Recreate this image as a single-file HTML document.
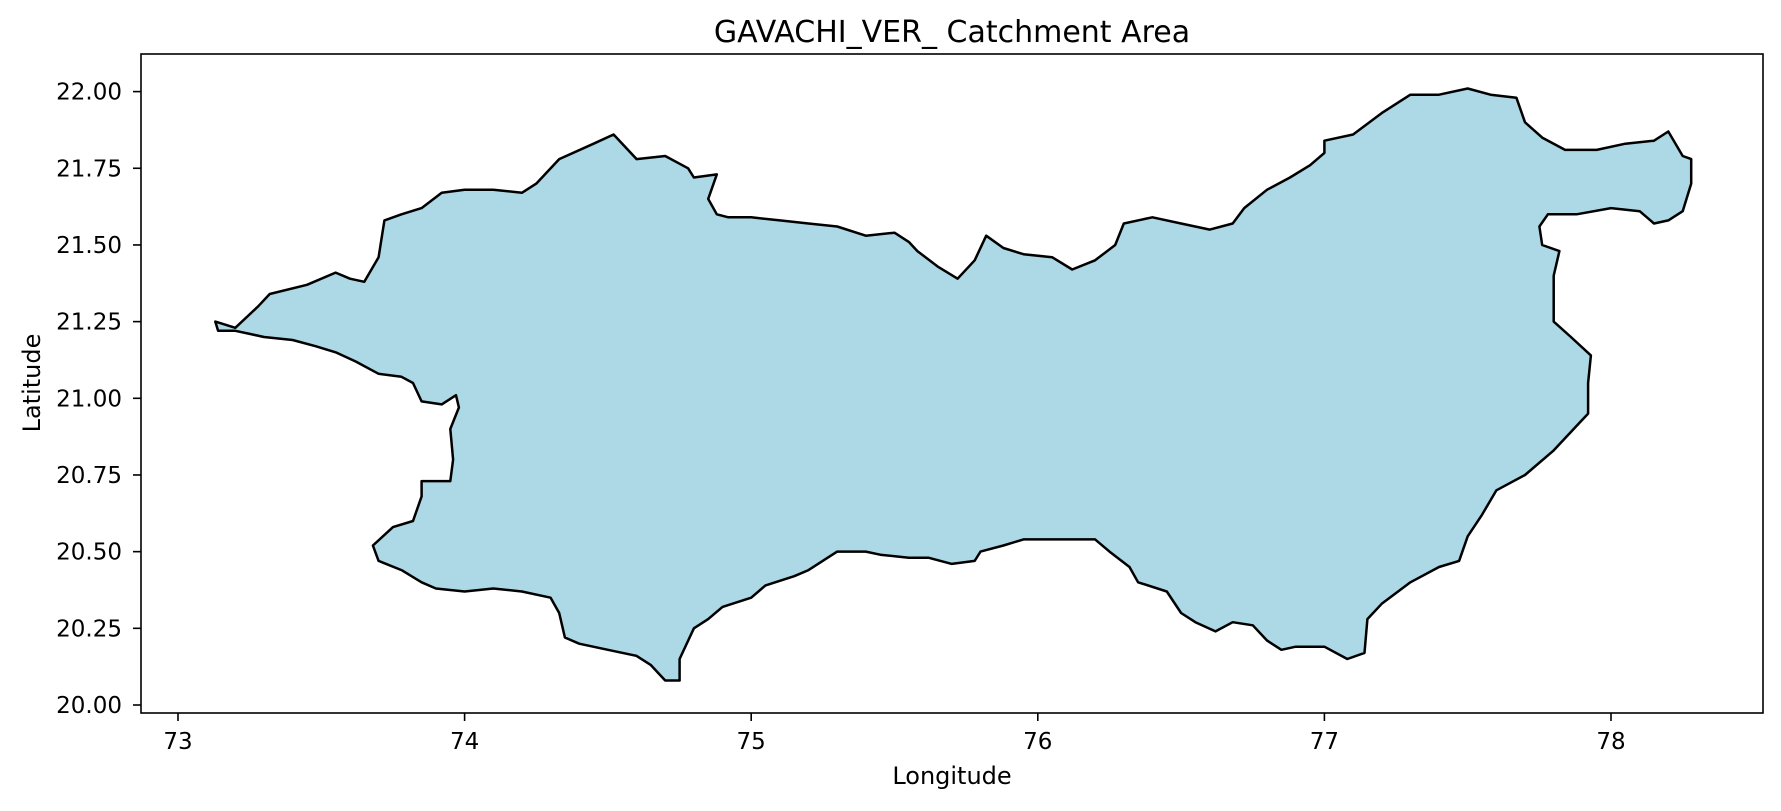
<!DOCTYPE html>
<html><head><meta charset="utf-8"><style>
body{margin:0;background:#fff}
svg text{font-family:"DejaVu Sans","Liberation Sans",sans-serif;fill:#000}
</style></head><body>
<svg width="1781" height="806" viewBox="0 0 1781 806">
<rect width="1781" height="806" fill="#fff"/>
<g id="plot"></g>
<text x="952" y="42" text-anchor="middle" font-size="30">GAVACHI_VER_ Catchment Area</text>
<text x="952" y="784" text-anchor="middle" font-size="24">Longitude</text>
<text x="0" y="0" transform="translate(40,383) rotate(-90)" text-anchor="middle" font-size="24">Latitude</text>
</svg>
<script>
const xTicks=[73,74,75,76,77,78];
const yTicks=[20.00,20.25,20.50,20.75,21.00,21.25,21.50,21.75,22.00];
const lons=[73.13,73.2,73.28,73.32,73.45,73.55,73.6,73.65,73.7,73.72,73.78,73.85,73.92,74.0,74.1,74.2,74.25,74.33,74.45,74.52,74.6,74.7,74.78,74.8,74.88,74.85,74.88,74.92,75.0,75.1,75.2,75.3,75.4,75.5,75.55,75.58,75.65,75.72,75.78,75.82,75.88,75.95,76.05,76.12,76.2,76.27,76.3,76.4,76.5,76.6,76.68,76.72,76.8,76.88,76.95,77.0,77.0,77.1,77.2,77.3,77.4,77.5,77.58,77.67,77.7,77.76,77.84,77.95,78.05,78.15,78.2,78.25,78.28,78.28,78.25,78.2,78.15,78.1,78.0,77.88,77.78,77.75,77.76,77.82,77.8,77.8,77.86,77.93,77.92,77.92,77.88,77.8,77.7,77.6,77.55,77.5,77.47,77.4,77.3,77.2,77.15,77.14,77.08,77.0,76.9,76.85,76.8,76.75,76.68,76.62,76.55,76.5,76.45,76.35,76.32,76.25,76.2,76.1,75.95,75.88,75.8,75.78,75.7,75.62,75.55,75.45,75.4,75.3,75.2,75.15,75.05,75.0,74.9,74.85,74.8,74.75,74.75,74.7,74.65,74.6,74.5,74.4,74.35,74.33,74.3,74.2,74.1,74.0,73.9,73.85,73.78,73.7,73.68,73.75,73.82,73.85,73.85,73.95,73.96,73.95,73.98,73.97,73.92,73.85,73.82,73.78,73.7,73.62,73.55,73.48,73.4,73.3,73.25,73.2,73.14];
const lats=[21.25,21.23,21.30,21.34,21.37,21.41,21.39,21.38,21.46,21.58,21.60,21.62,21.67,21.68,21.68,21.67,21.70,21.78,21.83,21.86,21.78,21.79,21.75,21.72,21.73,21.65,21.6,21.59,21.59,21.58,21.57,21.56,21.53,21.54,21.51,21.48,21.43,21.39,21.45,21.53,21.49,21.47,21.46,21.42,21.45,21.50,21.57,21.59,21.57,21.55,21.57,21.62,21.68,21.72,21.76,21.80,21.84,21.86,21.93,21.99,21.99,22.01,21.99,21.98,21.90,21.85,21.81,21.81,21.83,21.84,21.87,21.79,21.78,21.70,21.61,21.58,21.57,21.61,21.62,21.6,21.60,21.56,21.50,21.48,21.40,21.25,21.20,21.14,21.05,20.95,20.91,20.83,20.75,20.70,20.62,20.55,20.47,20.45,20.40,20.33,20.28,20.17,20.15,20.19,20.19,20.18,20.21,20.26,20.27,20.24,20.27,20.30,20.37,20.40,20.45,20.50,20.54,20.54,20.54,20.52,20.50,20.47,20.46,20.48,20.48,20.49,20.50,20.50,20.44,20.42,20.39,20.35,20.32,20.28,20.25,20.15,20.08,20.08,20.13,20.16,20.18,20.2,20.22,20.3,20.35,20.37,20.38,20.37,20.38,20.40,20.44,20.47,20.52,20.58,20.60,20.68,20.73,20.73,20.8,20.9,20.97,21.01,20.98,20.99,21.05,21.07,21.08,21.12,21.15,21.17,21.19,21.2,21.21,21.22,21.22];
const X=v=>178+(v-73)*286.6, Y=v=>705-(v-20)*306.7;
const NS='http://www.w3.org/2000/svg', g=document.getElementById('plot');
function mk(t,a){const e=document.createElementNS(NS,t);for(const k in a)e.setAttribute(k,a[k]);g.appendChild(e);return e;}
let d=lons.map((v,i)=>(i?'L':'M')+X(v).toFixed(1)+','+Y(lats[i]).toFixed(1)).join('')+'Z';
const poly=mk('path',{d:d,fill:'#add8e6',stroke:'#000','stroke-width':2.5,'stroke-linejoin':'round'});


const fr=mk('rect',{x:141,y:54,width:1622,height:659,fill:'none',stroke:'#000','stroke-width':1.6});


xTicks.forEach(t=>{
 const l=mk('line',{x1:X(t),x2:X(t),y1:713,y2:721,stroke:'#000','stroke-width':1.6});
 
 
 const tx=mk('text',{x:X(t),y:749,'text-anchor':'middle','font-size':23});tx.textContent=t;
 
 
});
yTicks.forEach(t=>{
 const l=mk('line',{x1:133,x2:141,y1:Y(t),y2:Y(t),stroke:'#000','stroke-width':1.6});
 
 
 const tx=mk('text',{x:122,y:Y(t)+8,'text-anchor':'end','font-size':23});tx.textContent=t.toFixed(2);
 
 
});
</script>
</body></html>
